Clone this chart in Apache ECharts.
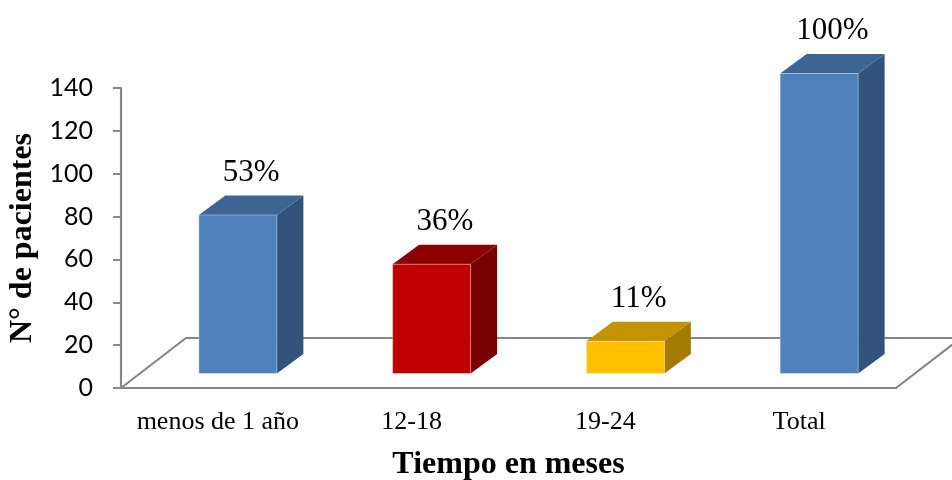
<!DOCTYPE html>
<html>
<head>
<meta charset="utf-8">
<script src="https://cdn.jsdelivr.net/npm/echarts@6/dist/echarts.min.js"></script>
<style>
  html, body { margin: 0; padding: 0; background: #ffffff; }
  #chart { width: 952px; height: 480px; }
</style>
</head>
<body>
<div id="chart"></div>
<script>
// Patients by time since diagnosis (months)
const categories = ['menos de 1 año', '12-18', '19-24', 'Total'];
const patients = [74, 51, 15, 140];
const yTicks = { min: 0, max: 140, interval: 20 };

// Face colours for each column: front, top, side
const faceColors = [
  ['#4F81BD', '#3D6593', '#31537C'],
  ['#C00000', '#8C0000', '#780000'],
  ['#FFC000', '#C49400', '#A37B00'],
  ['#4F81BD', '#3D6593', '#31537C']
];

const total = patients[patients.length - 1];
const pctLabels = patients.map(v => Math.round(v / total * 100) + '%');

// Oblique projection used for the pseudo-3D look
const FLOOR_DX = 65, FLOOR_DY = -50;     // floor depth
const SHIFT_X = 20, SHIFT_Y = -14.5;     // column position inside the floor
const COL_W = 78;                        // front face width
const DEPTH_DX = 26.5, DEPTH_DY = -19.5; // column depth

const gray = '#878787';
const serif = '"Liberation Serif", "Times New Roman", serif';

function renderFloor(params, api) {
  const cs = params.coordSys;
  const x0 = cs.x, x1 = cs.x + cs.width, yb = cs.y + cs.height;
  return {
    type: 'polyline',
    silent: true,
    shape: {
      points: [
        [x0, yb],
        [x0 + FLOOR_DX, yb + FLOOR_DY],
        [x1 + FLOOR_DX, yb + FLOOR_DY],
        [x1, yb]
      ]
    },
    style: { stroke: gray, lineWidth: 2.2, fill: null }
  };
}

function renderColumn(params, api) {
  const idx = api.value(0);
  const val = api.value(1);
  const base = api.coord([idx, 0]);
  const top = api.coord([idx, val]);
  const fx0 = base[0] + SHIFT_X - COL_W / 2;
  const fx1 = fx0 + COL_W;
  const fyB = base[1] + SHIFT_Y;
  const fyT = top[1] + SHIFT_Y;
  const c = faceColors[idx];
  return {
    type: 'group',
    children: [
      {
        type: 'polygon',
        shape: { points: [[fx1, fyT], [fx1 + DEPTH_DX, fyT + DEPTH_DY], [fx1 + DEPTH_DX, fyB + DEPTH_DY], [fx1, fyB]] },
        style: { fill: c[2] }
      },
      {
        type: 'polygon',
        shape: { points: [[fx0, fyT], [fx1, fyT], [fx1 + DEPTH_DX, fyT + DEPTH_DY], [fx0 + DEPTH_DX, fyT + DEPTH_DY]] },
        style: { fill: c[1] }
      },
      {
        type: 'rect',
        shape: { x: fx0, y: fyT, width: COL_W, height: fyB - fyT },
        style: { fill: c[0], stroke: 'rgba(255,255,255,0.35)', lineWidth: 1 }
      },
      {
        type: 'text',
        style: {
          text: pctLabels[idx],
          x: (fx0 + fx1) / 2 + DEPTH_DX / 2,
          y: fyT + DEPTH_DY - 23,
          align: 'center',
          verticalAlign: 'middle',
          font: '31px ' + serif,
          fill: '#000000'
        }
      }
    ]
  };
}

const chart = echarts.init(document.getElementById('chart'), null, { renderer: 'canvas' });

chart.setOption({
  backgroundColor: '#ffffff',
  animation: false,
  grid: { left: 121, right: 56, top: 88, bottom: 92, containLabel: false, outerBoundsMode: 'none' },
  xAxis: {
    type: 'category',
    data: categories,
    axisLine: { show: true, lineStyle: { color: gray, width: 2.2 } },
    axisTick: { show: false },
    axisLabel: {
      interval: 0,
      color: '#000000',
      fontFamily: serif,
      fontSize: 26,
      margin: 21
    },
    name: 'Tiempo en meses',
    nameLocation: 'middle',
    nameGap: 61,
    nameTextStyle: { color: '#000000', fontFamily: serif, fontSize: 32, fontWeight: 'bold' }
  },
  yAxis: {
    type: 'value',
    min: yTicks.min,
    max: yTicks.max,
    interval: yTicks.interval,
    axisLine: { show: true, lineStyle: { color: gray, width: 2.2 } },
    axisTick: { show: true, length: 8, lineStyle: { color: gray, width: 2 } },
    splitLine: { show: false },
    axisLabel: {
      color: '#000000',
      fontFamily: 'Lato, "Liberation Sans", sans-serif',
      fontSize: 25,
      margin: 28
    },
    name: 'N° de pacientes',
    nameLocation: 'middle',
    nameRotate: 90,
    nameGap: 77,
    nameTextStyle: { color: '#000000', fontFamily: serif, fontSize: 32, fontWeight: 'bold' }
  },
  series: [
    {
      type: 'custom',
      name: 'floor',
      z: 1,
      renderItem: renderFloor,
      data: [[0, 0]],
      silent: true
    },
    {
      type: 'custom',
      name: 'Pacientes',
      z: 3,
      renderItem: renderColumn,
      encode: { x: 0, y: 1 },
      data: patients.map((v, i) => [i, v])
    }
  ]
});
</script>
</body>
</html>
